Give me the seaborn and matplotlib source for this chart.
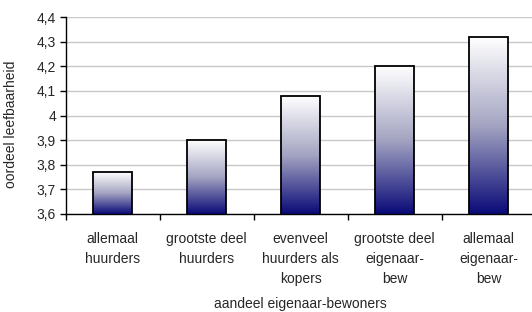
import numpy as np
import matplotlib
matplotlib.use("Agg")
import matplotlib.pyplot as plt
import seaborn as sns
import pandas as pd
from matplotlib.colors import LinearSegmentedColormap

categories = ["allemaal\nhuurders", "grootste deel\nhuurders",
              "evenveel\nhuurders als\nkopers", "grootste deel\neigenaar-\nbew",
              "allemaal\neigenaar-\nbew"]
values = [3.77, 3.90, 4.08, 4.20, 4.32]
yticks = [3.6, 3.7, 3.8, 3.9, 4.0, 4.1, 4.2, 4.3, 4.4]
ytick_labels = ["3,6", "3,7", "3,8", "3,9", "4", "4,1", "4,2", "4,3", "4,4"]
xlabel = "aandeel eigenaar-bewoners"
ylabel = "oordeel leefbaarheid"

sns.set_style("white")
plt.rcParams['font.family'] = ['Liberation Sans', 'DejaVu Sans']

W, H = 532, 312
fig = plt.figure(figsize=(W / 100, H / 100), dpi=100)
ax = fig.add_axes([65.7 / W, (H - 213.7) / H, 470 / W, (213.7 - 17.3) / H])

df = pd.DataFrame({"cat": categories, "val": values})
sns.barplot(data=df, x="cat", y="val", ax=ax, width=0.41, color="white",
            edgecolor="black", linewidth=1.3, zorder=3)

ax.set_ylim(3.6, 4.4)
ax.set_xlim(-0.5, 4.5)

cmap = LinearSegmentedColormap.from_list(
    "g", [(0.0, "#ffffff"), (0.5, "#a4a4c2"), (1.0, "#0a0a78")])
grad = np.linspace(0, 1, 256).reshape(-1, 1)
ylo = ax.get_ylim()[0]
for p in list(ax.patches):
    x0 = p.get_x()
    w = p.get_width()
    top = p.get_y() + p.get_height()
    bot = max(p.get_y(), ylo)
    im = ax.imshow(grad, cmap=cmap, aspect="auto", extent=[x0, x0 + w, bot, top],
                   origin="upper", zorder=2.5, interpolation="bilinear")
    im.set_clip_path(p)
    p.set_facecolor("none")
ax.set_xlim(-0.5, 4.5)
ax.set_ylim(3.6, 4.4)

ax.set_yticks(yticks)
ax.set_yticklabels(ytick_labels, fontsize=10)
ax.set_xticks(range(len(categories)))
ax.set_xticklabels(categories, fontsize=10, linespacing=1.55)
ax.set_xticks(np.arange(-0.5, len(categories), 1.0), minor=True)
ax.tick_params(axis="x", which="major", length=0, pad=13)
ax.tick_params(axis="x", which="minor", length=4.5, width=1, color="black", direction="out", bottom=True)
ax.tick_params(axis="y", length=4, width=1, color="black", direction="out", pad=3, left=True)

ax.yaxis.grid(True, color="#c8c8c8", linewidth=1)
ax.set_axisbelow(True)
for s in ["top", "right"]:
    ax.spines[s].set_visible(False)
for s in ["left", "bottom"]:
    ax.spines[s].set_color("black")
    ax.spines[s].set_linewidth(1)
    ax.spines[s].set_zorder(4)

ax.set_ylabel(ylabel, fontsize=10)
ax.yaxis.set_label_coords((18 - 65.7) / 470, (213.7 - 124) / 196.4)
ax.set_xlabel(xlabel, fontsize=10)
ax.xaxis.set_label_coords(0.5, (213.7 - 297) / 196.4)

fig.savefig("out.png", dpi=100)
